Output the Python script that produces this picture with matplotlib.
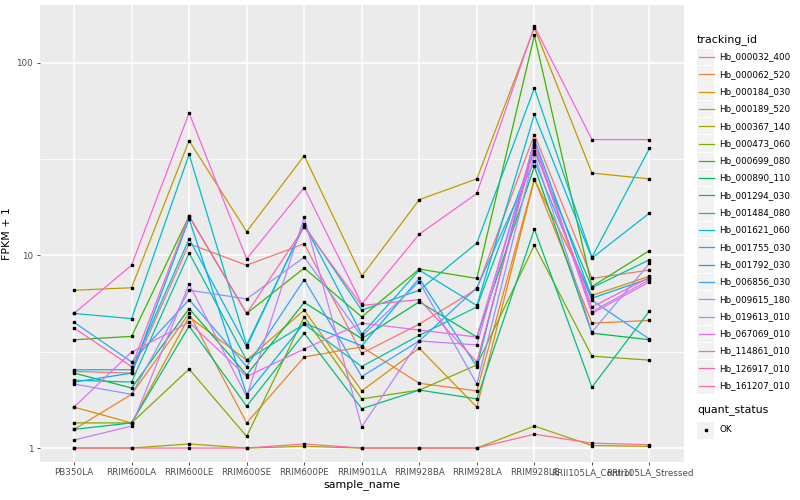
import numpy as np
import matplotlib
matplotlib.use("Agg")
import matplotlib.pyplot as plt
from matplotlib import patches

samples = ["PB350LA", "RRIM600LA", "RRIM600LE", "RRIM600SE", "RRIM600PE",
           "RRIM901LA", "RRIM928BA", "RRIM928LA", "RRIM928LE",
           "RRII105LA_Control", "RRII105LA_Stressed"]

tracking_ids = ["Hb_000032_400", "Hb_000062_520", "Hb_000184_030", "Hb_000189_520",
                "Hb_000367_140", "Hb_000473_060", "Hb_000699_080", "Hb_000890_110",
                "Hb_001294_030", "Hb_001484_080", "Hb_001621_060", "Hb_001755_030",
                "Hb_001792_030", "Hb_006856_030", "Hb_009615_180", "Hb_019613_010",
                "Hb_067069_010", "Hb_114861_010", "Hb_126917_010", "Hb_161207_010"]

# ggplot default hue palette, 20 levels
colors = ["#F8766D", "#EA8331", "#D89000", "#C09B00", "#A3A500", "#7CAE00",
          "#39B600", "#00BB4E", "#00BF7D", "#00C1A3", "#00BFC4", "#00BAE0",
          "#00B0F6", "#35A2FF", "#9590FF", "#C77CFF", "#E76BF3", "#FA62DB",
          "#FF62BC", "#FF6C91"]

# FPKM + 1, one row per tracking_id, columns follow samples
fpkm = [
    [2.5, 2.45, 11.5, 8.9, 11.5, 3.1, 4.4, 6.7, 42.5, 7.6, 8.4],
    [1.25, 1.9, 5.0, 1.35, 2.97, 3.35, 2.17, 1.98, 25, 4.45, 4.6],
    [1.63, 1.35, 4.8, 2.86, 5.2, 1.98, 3.3, 1.63, 24.8, 6.2, 7.8],
    [6.6, 6.8, 39.5, 13.3, 33, 7.8, 19.5, 25, 152, 26.8, 25],
    [1.0, 1.0, 1.05, 1.0, 1.02, 1.0, 1.0, 1.0, 1.3, 1.03, 1.02],
    [1.35, 1.35, 2.57, 1.15, 4.8, 1.8, 2.0, 2.7, 11.3, 3.0, 2.86],
    [3.65, 3.8, 16, 5.0, 8.6, 4.8, 8.5, 7.6, 139, 6.9, 10.6],
    [2.45, 2.05, 5.3, 2.4, 5.7, 3.7, 5.75, 3.77, 29, 3.95, 3.65],
    [1.25, 1.35, 4.3, 1.65, 3.95, 1.6, 2.0, 1.8, 13.7, 2.07, 5.15],
    [2.25, 2.2, 10.3, 2.86, 4.4, 2.65, 3.85, 5.4, 35, 6.8, 9.5],
    [5.0, 4.7, 33.5, 3.43, 14.3, 5.2, 6.6, 11.6, 74, 9.8, 36],
    [2.55, 2.55, 12.2, 3.35, 14.5, 3.9, 8.4, 5.5, 54, 9.7, 16.6],
    [2.2, 2.45, 15.5, 1.9, 4.45, 3.4, 7.6, 2.65, 40, 6.0, 7.6],
    [4.5, 2.8, 5.9, 2.65, 7.5, 2.35, 3.6, 6.8, 31, 5.85, 3.68],
    [2.15, 1.9, 6.6, 5.95, 9.8, 3.8, 7.3, 2.15, 33.5, 4.0, 9.1],
    [1.1, 1.3, 7.1, 1.85, 15.8, 1.29, 3.6, 3.43, 39, 5.1, 7.5],
    [1.63, 3.15, 4.5, 2.35, 3.27, 4.45, 4.1, 3.77, 37.5, 5.0, 7.3],
    [5.0, 8.9, 55, 9.6, 22.5, 5.6, 12.9, 21, 155, 40, 40],
    [4.2, 2.65, 16, 5.0, 14.0, 5.5, 5.9, 2.8, 36.5, 5.4, 7.7],
    [1.0, 1.0, 1.0, 1.0, 1.05, 1.0, 1.0, 1.0, 1.18, 1.06, 1.04],
]

fig = plt.figure(figsize=(8, 5), dpi=100)
ax = fig.add_axes([39.5/800, 1-462/500, (684-39.5)/800, (462-5)/500])
ax.set_facecolor("#EBEBEB")

x = np.arange(len(samples))
for vals, c in zip(fpkm, colors):
    ax.plot(x, vals, color=c, lw=0.9, zorder=2)
for vals in fpkm:
    ax.plot(x, vals, 's', color='black', ms=2.1, zorder=3, ls='none')

ax.set_yscale('log')
ax.set_ylim(0.846, 200)
ax.set_xlim(-0.6, 10.6)
ax.set_yticks([1, 10, 100])
ax.set_yticklabels(["1", "10", "100"])
ax.set_yticks([10**0.5, 10**1.5], minor=True)
ax.yaxis.set_minor_formatter(plt.NullFormatter())
ax.set_xticks(x)
ax.set_xticklabels(samples)

ax.grid(True, which='major', color='white', lw=1.1, zorder=0)
ax.grid(True, which='minor', axis='y', color='white', lw=0.55, zorder=0)
ax.set_axisbelow(True)
for s in ax.spines.values():
    s.set_visible(False)
ax.tick_params(axis='both', which='major', length=2.5, width=0.6, color='#333333',
               labelsize=6.3, labelcolor='#4D4D4D', pad=2)
ax.tick_params(axis='y', which='minor', length=0)
ax.set_xlabel("sample_name", fontsize=7.9, labelpad=1)
ax.set_ylabel("FPKM + 1", fontsize=7.9, labelpad=3)

# legend drawn in pixel space
lg = fig.add_axes([0, 0, 1, 1], zorder=-1)
lg.set_xlim(0, 800)
lg.set_ylim(500, 0)
lg.axis('off')
lg.text(697, 40, "tracking_id", fontsize=7.9, va='center', ha='left')
for i, (tid, c) in enumerate(zip(tracking_ids, colors)):
    yc = 57 + 17.3 * i
    lg.add_patch(patches.Rectangle((697, yc - 8.3), 17, 16.6, fc="#F2F2F2", ec='none'))
    lg.plot([698.5, 713.5], [yc, yc], color=c, lw=0.9)
    lg.text(719, yc, tid, fontsize=6.3, va='center', ha='left')
lg.text(697, 411, "quant_status", fontsize=7.9, va='center', ha='left')
lg.add_patch(patches.Rectangle((697, 421.5), 17, 17, fc="#F2F2F2", ec='none'))
lg.plot([705.5], [430], 's', color='black', ms=2.1)
lg.text(719, 430, "OK", fontsize=6.3, va='center', ha='left')

fig.savefig("out.png", dpi=100)
